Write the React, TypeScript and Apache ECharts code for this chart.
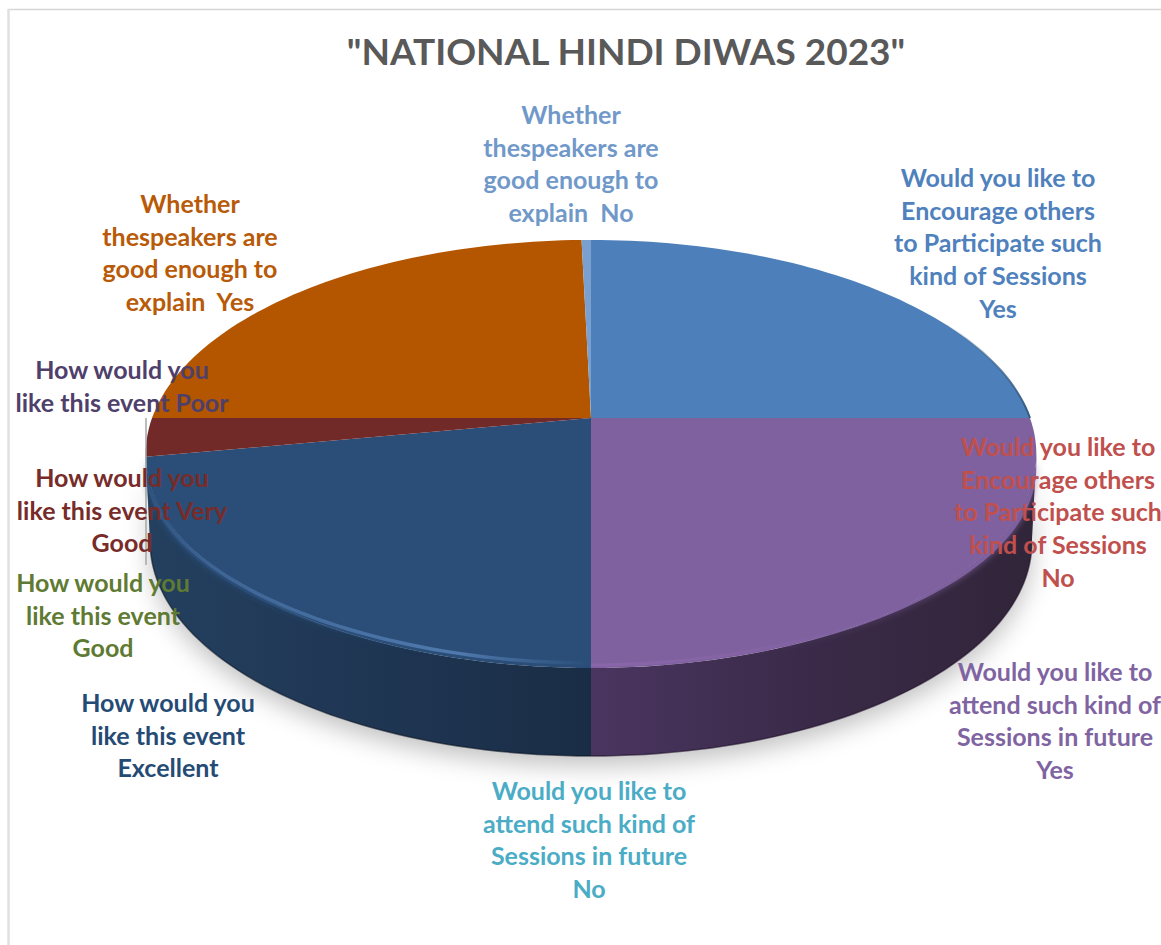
import React, { useEffect, useRef } from "react";
import * as echarts from "echarts";

const titleText = '"NATIONAL HINDI DIWAS 2023"';
const categories = [
  "Would you like to\nEncourage others\nto Participate such\nkind of Sessions\nYes",
  "Would you like to\nEncourage others\nto Participate such\nkind of Sessions\nNo",
  "Would you like to\nattend such kind of\nSessions in future\nYes",
  "Would you like to\nattend such kind of\nSessions in future\nNo",
  "How would you\nlike this event\nExcellent",
  "How would you\nlike this event\nGood",
  "How would you\nlike this event Very\nGood",
  "How would you\nlike this event Poor",
  "Whether\nthespeakers are\ngood enough to\nexplain  Yes",
  "Whether\nthespeakers are\ngood enough to\nexplain  No",
];
const values = [100, 0, 100, 0, 88.4, 0, 11.6, 0, 98.4, 1.6];
const topColors = ["#4d80bb", "#c0504d", "#7f619f", "#4bacc6", "#2a4e78", "#5f7a32", "#722a28", "#4f3f6b", "#b45600", "#7aa0cf"];
const labelColors = ["#4f81bd", "#c0504d", "#8064a2", "#4bacc6", "#254b75", "#5f7a32", "#772c2a", "#4f3f6b", "#b85a08", "#7099c9"];
const wallStops: Record<number, string[]> = {
  2: ["#4a3560", "#3a2a48", "#312539"],
  4: ["#24405f", "#1f3653", "#1a2d46"],
};
const wallEdges: Record<number, string> = { 2: "rgba(30,15,40,0.6)", 4: "rgba(10,20,35,0.6)" };
const labelX = [998, 1058, 1055, 589, 168, 103, 122, 122, 190, 571];
const labelY = [160.5, 429.5, 654.5, 773.5, 685.5, 565.5, 460.5, 352.5, 186.5, 97.5];

const CX = 591, CY = 418, A = 439, B = 208, K = -0.168;
const DEPTH = 88, BOTTOM_SCALE = 0.99, BEVEL = 14;
const WALL_FROM = 99.7, WALL_TO = 260.3;
const total = values.reduce((s, v) => s + v, 0);
const starts = values.map((_, i) => (values.slice(0, i).reduce((s, v) => s + v, 0) / total) * 360);

const rad = (d: number) => (d * Math.PI) / 180;
const proj = (deg: number) => {
  const u = Math.sin(rad(deg));
  const v = -Math.cos(rad(deg));
  const w = 1 + K * v;
  return { x: CX + (A * u) / w, y: CY + (B * v) / w, u };
};
const range = (a: number, b: number) => {
  const n = Math.max(2, Math.ceil((b - a) / 1.5));
  return Array.from({ length: n + 1 }, (_, i) => a + ((b - a) * i) / n);
};
const topPts = (a: number, b: number) => range(a, b).map((t) => { const p = proj(t); return [p.x, p.y]; });
const lowPts = (a: number, b: number) => range(a, b).map((t) => {
  const p = proj(t);
  return [CX + (p.x - CX) * BOTTOM_SCALE, p.y + DEPTH];
});
const rimPts = (a: number, b: number, off: number) => range(a, b).map((t) => {
  const p = proj(t);
  return [p.x, p.y + off + BEVEL * Math.pow(Math.abs(p.u), 4)];
});
const hGrad = (stops: string[]) =>
  new echarts.graphic.LinearGradient(0, 0, 1, 0, stops.map((c, i) => ({ offset: i / (stops.length - 1), color: c })));

const span = (i: number) => [starts[i], starts[i] + (values[i] / total) * 360];
const clip = (i: number) => {
  const [a, b] = span(i);
  return [Math.max(a, WALL_FROM), Math.min(b, WALL_TO)];
};

const renderShadow = () => ({
  type: "polygon",
  shape: { points: [...lowPts(WALL_FROM, WALL_TO), ...topPts(WALL_FROM, WALL_TO).reverse()] },
  style: { fill: "#cccccc", shadowBlur: 24, shadowColor: "rgba(0,0,0,0.24)", shadowOffsetY: 10 },
});

const renderWall = (params: any, api: any) => {
  const i = params.dataIndex;
  if (!api.value(0)) return null;
  const [a, b] = clip(i);
  if (b <= a) return null;
  const stops = wallStops[i];
  if (!stops) return null;
  const rim = topColors[i];
  return {
    type: "group",
    children: [
      { type: "polygon", shape: { points: [...topPts(a, b), ...lowPts(a, b).reverse()] }, style: { fill: hGrad(stops) } },
      { type: "polyline", shape: { points: lowPts(a, b) }, style: { fill: "none", lineWidth: 1.5, stroke: wallEdges[i] } },
      {
        type: "polygon",
        shape: { points: [...topPts(a, b), ...rimPts(a, b, 0).reverse()] },
        style: { fill: rim, shadowBlur: 6, shadowColor: rim },
      },
    ],
  };
};

const renderTop = (params: any, api: any) => {
  const i = params.dataIndex;
  if (!api.value(0)) return null;
  const [a, b] = span(i);
  const children: any[] = [
    { type: "polygon", shape: { points: [[CX, CY], ...topPts(a, b)] }, style: { fill: topColors[i] } },
  ];
  if (i === 4) {
    const [c, d] = clip(i);
    children.push({
      type: "polyline",
      shape: { points: rimPts(c, d - 4, -5) },
      style: {
        fill: "none",
        lineWidth: 3.5,
        stroke: new echarts.graphic.LinearGradient(0, 0, 1, 0, [
          { offset: 0, color: "rgba(78,118,170,0.15)" },
          { offset: 0.25, color: "#41689a" },
          { offset: 0.7, color: "#5079ad" },
          { offset: 1, color: "rgba(74,116,168,0)" },
        ]),
      },
    });
  }
  if (i === 2) {
    const [c, d] = clip(i);
    children.push({
      type: "polyline",
      shape: { points: rimPts(c + 45, d, -3) },
      style: {
        fill: "none",
        lineWidth: 3,
        stroke: new echarts.graphic.LinearGradient(0, 0, 1, 0, [
          { offset: 0, color: "#8a66aa" },
          { offset: 1, color: "rgba(138,102,170,0)" },
        ]),
      },
    });
  }
  if (i === 0) {
    const [, d] = span(i);
    children.push({
      type: "polyline",
      shape: { points: topPts(d - 30, d) },
      style: {
        fill: "none",
        lineWidth: 2,
        stroke: new echarts.graphic.LinearGradient(0, 0, 1, 0, [
          { offset: 0, color: "rgba(52,90,128,0)" },
          { offset: 1, color: "#345a80" },
        ]),
      },
    });
  }
  return { type: "group", children };
};

const seriesData = values.map((v, i) => ({ name: categories[i], value: [v] }));

export default function App() {
  const ref = useRef<HTMLDivElement>(null);
  useEffect(() => {
    document.body.style.margin = "0";
    document.body.style.background = "#ffffff";
    const chart = echarts.init(ref.current!, undefined, { renderer: "svg" });
    chart.setOption({
      animation: false,
      backgroundColor: "#ffffff",
      title: {
        text: titleText,
        left: 621,
        top: 27,
        textAlign: "center",
        textStyle: { fontFamily: "Lato", fontWeight: "bold", fontSize: 37, color: "#595959" },
      },
      tooltip: { show: false },
      series: [
        { type: "custom", coordinateSystem: "none", silent: true, z: 1, data: [[1]], renderItem: renderShadow },
        { type: "custom", coordinateSystem: "none", silent: true, z: 2, data: seriesData, renderItem: renderWall },
        { type: "custom", coordinateSystem: "none", silent: true, z: 3, data: seriesData, renderItem: renderTop },
      ],
      graphic: [
        { type: "line", z: 0, silent: true, shape: { x1: 8, y1: 9.5, x2: 1161, y2: 9.5 }, style: { stroke: "#d5d5d5", lineWidth: 1.5 } },
        { type: "line", z: 0, silent: true, shape: { x1: 8.5, y1: 9, x2: 8.5, y2: 945 }, style: { stroke: "#e0e0e0", lineWidth: 2.5 } },
        { type: "line", z: 40, silent: true, shape: { x1: 146, y1: 418, x2: 146, y2: 565 }, style: { stroke: "#a6a6a6", lineWidth: 1.5 } },
        ...categories.map((c, i) => ({
          type: "text",
          z: 50,
          silent: true,
          x: labelX[i],
          y: labelY[i],
          style: {
            text: c,
            align: "center",
            verticalAlign: "top",
            fontFamily: "Lato",
            fontWeight: "bold",
            fontSize: 25,
            lineHeight: 32.7,
            fill: labelColors[i],
          },
        })),
      ],
    });
    return () => chart.dispose();
  }, []);
  return <div ref={ref} style={{ position: "absolute", left: 0, top: 0, width: 1161, height: 945 }} />;
}
